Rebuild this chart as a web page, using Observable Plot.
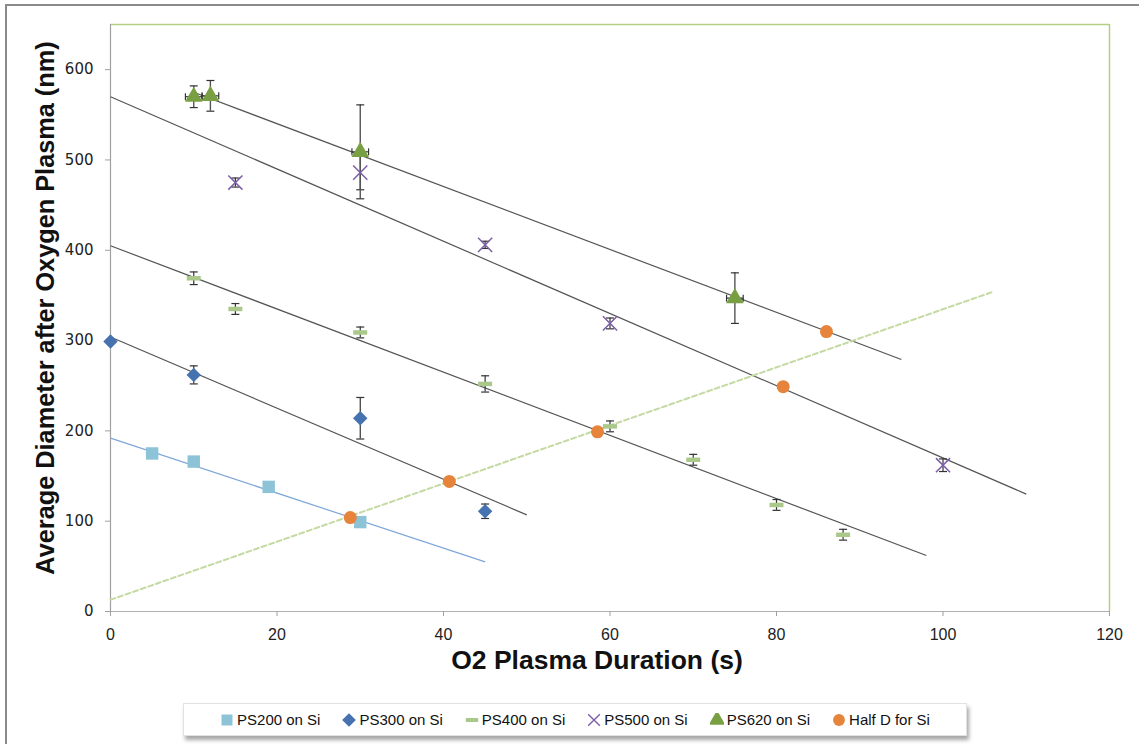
<!DOCTYPE html>
<html>
<head>
<meta charset="utf-8">
<script src="https://cdn.jsdelivr.net/npm/d3@7"></script>
<script src="https://cdn.jsdelivr.net/npm/@observablehq/plot@0.6"></script>
<style>
  html, body { margin: 0; padding: 0; background: #fff; overflow: hidden; }
  body { width: 1139px; height: 744px; position: relative; font-family: "Liberation Sans", Arial, sans-serif; }
  #outer { position: absolute; left: 5px; top: 4px; width: 1300px; height: 900px; border: 2px solid #8a8a8a; box-sizing: border-box; }
  #chart { position: absolute; left: 0; top: 0; }
  #legend { position: absolute; left: 183px; top: 703px; width: 782px; height: 31px; background: #fff;
            border: 1px solid #e2e2e2; box-shadow: 2px 4px 4px rgba(0,0,0,0.35);
            display: flex; align-items: center; justify-content: center; gap: 22px;
            font-family: "Liberation Sans", sans-serif; font-size: 15px; color: #111; }
  .li { display: flex; align-items: center; gap: 3px; white-space: nowrap; }
</style>
</head>
<body>
<div id="outer"></div>
<div id="chart"></div>
<div id="legend"></div>
<script>
// ---- data ----
const seriesNames = ["PS200 on Si", "PS300 on Si", "PS400 on Si", "PS500 on Si", "PS620 on Si", "Half D for Si"];
const seriesColors = ["#8cc3d6", "#4672b0", "#a9c88a", "#7b5ea7", "#78a042", "#e5843a"];

const ps200X = [5, 10, 19, 30];
const ps200Y = [175, 166, 138, 99];

const ps300X = [0, 10, 30, 45];
const ps300Y = [299, 262, 214, 111];
const ps300Err = [0, 10, 23, 8];

const ps400X = [10, 15, 30, 45, 60, 70, 80, 88];
const ps400Y = [369, 335, 309, 252, 205, 168, 118, 85];
const ps400Err = [7, 6, 6, 9, 6, 6, 6, 6];

const ps500X = [15, 30, 45, 60, 100];
const ps500Y = [475, 486, 406, 319, 162];
const ps500Err = [5, 19, 4, 6, 7];

const ps620X = [10, 12, 30, 75];
const ps620Y = [570, 571, 509, 347];
const ps620Err = [12, 17, 52, 28];
const ps620XErr = [1, 1, 1, 1];

const halfX = [28.8, 40.7, 58.5, 80.8, 86];
const halfY = [104, 144, 199, 249, 310];

// trend lines (endpoints)
const trendNames = ["PS200", "PS300", "PS400", "PS500", "PS620"];
const trendX1 = [0, 0, 0, 0, 10];
const trendY1 = [192, 304, 405, 570, 575];
const trendX2 = [45, 50, 98, 110, 95];
const trendY2 = [55, 107, 62, 130, 279];
const trendColors = ["#7ea6d8", "#555", "#555", "#555", "#555"];
const halfTrendX = [0, 106];
const halfTrendY = [13, 354];

const xTicks = [0, 20, 40, 60, 80, 100, 120];
const yTicks = [0, 100, 200, 300, 400, 500, 600];
const xLabel = "O2 Plasma Duration (s)";
const yLabel = "Average Diameter after Oxygen Plasma (nm)";

// ---- build tables ----
const zip = (xs, ys, extra = {}) => xs.map((x, i) => {
  const o = {x, y: ys[i]};
  for (const k in extra) o[k] = extra[k][i];
  return o;
});
const d200 = zip(ps200X, ps200Y);
const d300 = zip(ps300X, ps300Y, {e: ps300Err});
const d400 = zip(ps400X, ps400Y, {e: ps400Err});
const d500 = zip(ps500X, ps500Y, {e: ps500Err});
const d620 = zip(ps620X, ps620Y, {e: ps620Err, ex: ps620XErr});
const dHalf = zip(halfX, halfY);
const trends = trendNames.map((n, i) => ({n, x1: trendX1[i], y1: trendY1[i], x2: trendX2[i], y2: trendY2[i], c: trendColors[i]}));
const halfTrend = zip(halfTrendX, halfTrendY);
const errAll = [...d300, ...d400, ...d500].filter(d => d.e > 0);

// custom symbols
const capH = {draw(ctx, size) { const r = Math.sqrt(size / Math.PI); ctx.moveTo(-r, 0); ctx.lineTo(r, 0); }};
const capV = {draw(ctx, size) { const r = Math.sqrt(size / Math.PI); ctx.moveTo(0, -r); ctx.lineTo(0, r); }};
const dash = {draw(ctx, size) { const r = Math.sqrt(size / Math.PI); ctx.rect(-r, -r * 0.32, 2 * r, r * 0.64); }};

const W = 1139, H = 700;
const plot = Plot.plot({
  width: W, height: H,
  marginLeft: 110, marginRight: 30, marginTop: 24, marginBottom: 89,
  x: {domain: [0, 120]},
  y: {domain: [0, 650]},
  style: {fontFamily: "Liberation Sans, sans-serif", background: "transparent", overflow: "visible"},
  marks: [
    // frame
    Plot.ruleY([650], {stroke: "#b3cf86", strokeWidth: 1.5}),
    Plot.ruleX([120], {stroke: "#b3cf86", strokeWidth: 1.5}),
    Plot.ruleX([0], {stroke: "#a0a0a0", strokeWidth: 1.2}),
    Plot.ruleY([0], {stroke: "#b0b0b0", strokeWidth: 1.2}),
    Plot.axisY({ticks: yTicks, tickSize: 5, tickPadding: 12, stroke: "#a0a0a0", fontSize: 15, fontFamily: "DejaVu Sans", label: null, color: "#222"}),
    Plot.axisX({ticks: xTicks, tickSize: 5, tickPadding: 12, stroke: "#a0a0a0", fontSize: 16, fontFamily: "Liberation Sans", label: null, color: "#222"}),
    Plot.text([xLabel], {frameAnchor: "bottom", dy: 57, dx: -13, fontSize: 26.5, fontWeight: "bold", fill: "#111", fontFamily: "Liberation Sans, sans-serif"}),
    Plot.text([yLabel], {frameAnchor: "left", textAnchor: "middle", dx: -65, dy: -10, rotate: -90, fontSize: 25.3, fontWeight: "bold", fill: "#111", fontFamily: "Liberation Sans, sans-serif"}),
    // trend lines
    Plot.link(trends, {x1: "x1", y1: "y1", x2: "x2", y2: "y2", stroke: d => d.c, strokeWidth: 1.2}),
    Plot.line(halfTrend, {x: "x", y: "y", stroke: "#c5d9a3", strokeWidth: 2, strokeDasharray: "5,3"}),
    // y error bars
    Plot.ruleX(errAll, {x: "x", y1: d => d.y - d.e, y2: d => d.y + d.e, stroke: "#333", strokeWidth: 1.2}),
    Plot.dot(errAll, {x: "x", y: d => d.y - d.e, symbol: capH, r: 4, stroke: "#333", strokeWidth: 1.2}),
    Plot.dot(errAll, {x: "x", y: d => d.y + d.e, symbol: capH, r: 4, stroke: "#333", strokeWidth: 1.2}),
    Plot.ruleX(d620, {x: "x", y1: d => d.y - d.e, y2: d => d.y + d.e, stroke: "#555", strokeWidth: 1.4}),
    Plot.dot(d620, {x: "x", y: d => d.y - d.e, symbol: capH, r: 4, stroke: "#333", strokeWidth: 1.2}),
    Plot.dot(d620, {x: "x", y: d => d.y + d.e, symbol: capH, r: 4, stroke: "#333", strokeWidth: 1.2}),
    // x error bars (PS620)
    Plot.link(d620, {x1: d => d.x - d.ex, x2: d => d.x + d.ex, y1: "y", y2: "y", stroke: "#333", strokeWidth: 1.2}),
    Plot.dot(d620, {x: d => d.x - d.ex, y: "y", symbol: capV, r: 3.5, stroke: "#333", strokeWidth: 1.2}),
    Plot.dot(d620, {x: d => d.x + d.ex, y: "y", symbol: capV, r: 3.5, stroke: "#333", strokeWidth: 1.2}),
    // markers
    Plot.dot(d200, {x: "x", y: "y", symbol: "square", r: 7, fill: seriesColors[0]}),
    Plot.dot(d300, {x: "x", y: "y", symbol: "diamond2", r: 6.5, fill: seriesColors[1], stroke: null}),
    Plot.dot(d400, {x: "x", y: "y", symbol: dash, r: 7, fill: seriesColors[2]}),
    Plot.dot(d500, {x: "x", y: "y", symbol: "times", r: 6.5, stroke: seriesColors[3], strokeWidth: 1.5}),
    Plot.dot(d620, {x: "x", y: "y", symbol: "triangle", r: 6.5, fill: seriesColors[4]}),
    Plot.dot(dHalf, {x: "x", y: "y", symbol: "circle", r: 6.5, fill: seriesColors[5]})
  ]
});
document.getElementById("chart").append(plot);

// legend
const legendSymbols = ["square", "diamond2", dash, "times", "triangle", "circle"];
const leg = document.getElementById("legend");
seriesNames.forEach((name, i) => {
  const item = document.createElement("div");
  item.className = "li";
  const svg = d3.create("svg").attr("width", 14).attr("height", 14);
  const sym = legendSymbols[i];
  const type = typeof sym === "string" ? ({square: d3.symbolSquare, diamond2: d3.symbolDiamond2, times: d3.symbolTimes, triangle: d3.symbolTriangle, circle: d3.symbolCircle})[sym] : sym;
  const size = i === 5 ? 110 : i === 3 ? 90 : 120;
  const p = svg.append("path").attr("transform", "translate(7,7)").attr("d", d3.symbol(type, size)());
  if (sym === "times") p.attr("fill", "none").attr("stroke", seriesColors[i]).attr("stroke-width", 1.4);
  else p.attr("fill", seriesColors[i]);
  item.append(svg.node());
  const t = document.createElement("span");
  t.textContent = name;
  item.append(t);
  leg.append(item);
});
</script>
</body>
</html>
